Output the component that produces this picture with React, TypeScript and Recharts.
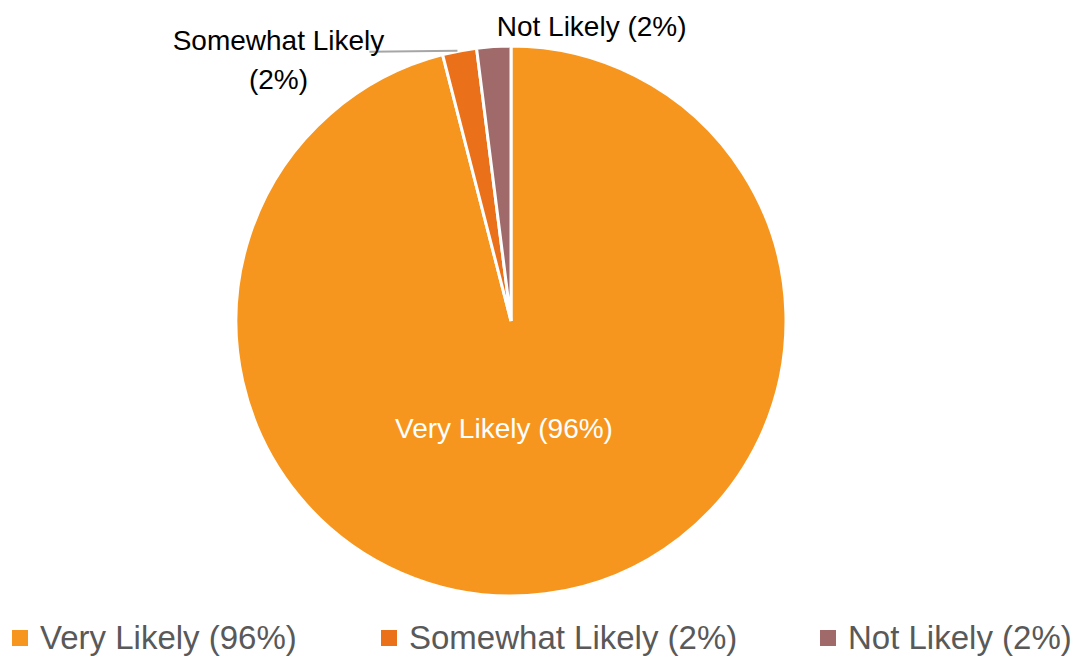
import React from "react";
import { PieChart, Pie, Cell, Legend } from "recharts";

const categories = ["Very Likely (96%)", "Somewhat Likely (2%)", "Not Likely (2%)"];
const values = [96, 2, 2];
const colors = ["#F7961E", "#EA7119", "#A06A6B"];

const data = categories.map((name, i) => ({ name, value: values[i] }));

const RAD = Math.PI / 180;
const FONT = "'Liberation Sans', Arial, sans-serif";

const renderLabel = (props: any) => {
  const { cx, cy, midAngle, outerRadius, index, name } = props;
  const cos = Math.cos(-midAngle * RAD);
  const sin = Math.sin(-midAngle * RAD);
  if (index === 0) {
    return (
      <text x={cx - 7} y={cy + 117} fill="#FFFFFF" fontSize={28} fontFamily={FONT} textAnchor="middle">
        {name}
      </text>
    );
  }
  const ex = cx + outerRadius * cos;
  const ey = cy + outerRadius * sin;
  if (index === 1) {
    const parts = name.split(" (");
    return (
      <g>
        <polyline points={`${ex - 2},${ey} ${ex - 90},${ey + 1}`} stroke="#A6A6A6" strokeWidth={2} fill="none" />
        <text x={ex - 181} y={ey - 1} fill="#000000" fontSize={28} fontFamily={FONT} textAnchor="middle">
          {parts[0]}
        </text>
        <text x={ex - 181} y={ey + 38} fill="#000000" fontSize={28} fontFamily={FONT} textAnchor="middle">
          {"(" + parts[1]}
        </text>
      </g>
    );
  }
  return (
    <text x={ex + 3} y={ey - 11} fill="#000000" fontSize={28} fontFamily={FONT} textAnchor="start">
      {name}
    </text>
  );
};

const legendPos = [12, 381, 820];

const renderLegend = () => (
  <div style={{ position: "relative", width: 1073, height: 44 }}>
    {data.map((d, i) => (
      <div key={d.name} style={{ position: "absolute", left: legendPos[i], top: 0, display: "flex", alignItems: "center", height: 44 }}>
        <div style={{ width: 16, height: 16, background: colors[i], marginRight: 12 }} />
        <span style={{ fontFamily: FONT, fontSize: 33, lineHeight: "44px", color: "#595959", whiteSpace: "nowrap" }}>{d.name}</span>
      </div>
    ))}
  </div>
);

export default function App() {
  return (
    <div style={{ position: "absolute", left: 0, top: 0, background: "#FFFFFF" }}>
      <PieChart width={1073} height={659} margin={{ top: 0, right: 0, bottom: 0, left: 0 }}>
        <Pie
          data={data}
          dataKey="value"
          nameKey="name"
          cx={511}
          cy={321}
          outerRadius={275}
          startAngle={90}
          endAngle={-270}
          stroke="#FFFFFF"
          strokeWidth={3}
          label={renderLabel}
          labelLine={false}
          isAnimationActive={false}
        >
          {data.map((d, i) => (
            <Cell key={d.name} fill={colors[i]} />
          ))}
        </Pie>
        <Legend content={renderLegend} wrapperStyle={{ left: 0, top: 616, width: 1073 }} />
      </PieChart>
    </div>
  );
}
